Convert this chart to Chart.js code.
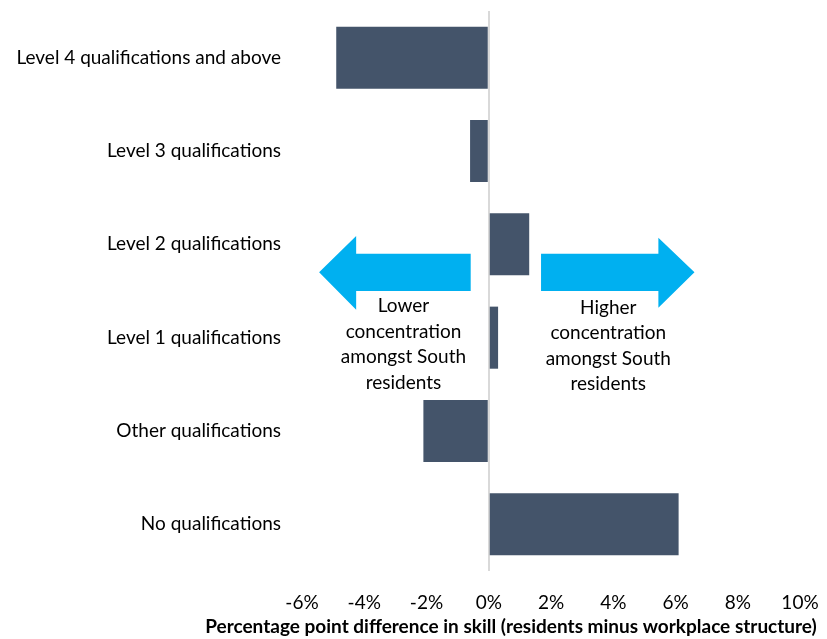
<!DOCTYPE html>
<html>
<head>
<meta charset="utf-8">
<script src="https://cdn.jsdelivr.net/npm/chart.js@4"></script>
<style>
  html, body { margin: 0; padding: 0; background: #fff; }
  #wrap { width: 827px; height: 639px; }
</style>
</head>
<body>
<div id="wrap"><canvas id="skillChart" width="827" height="639"></canvas></div>
<script>
// data
const categories = [
    'Level 4 qualifications and above',
    'Level 3 qualifications',
    'Level 2 qualifications',
    'Level 1 qualifications',
    'Other qualifications',
    'No qualifications'
];
const differences = [-4.9, -0.6, 1.3, 0.3, -2.1, 6.1];
const xTicks = [-6, -4, -2, 0, 2, 4, 6, 8, 10];
const axisTitle = 'Percentage point difference in skill (residents minus workplace structure)';
const lowerNote = ['Lower', 'concentration', 'amongst South', 'residents'];
const higherNote = ['Higher', 'concentration', 'amongst South', 'residents'];

const fontFamily = 'Lato, "Open Sans", sans-serif';

// arrows + notes, placed in axis units
const notesPlugin = {
    id: 'notes',
    afterDatasetsDraw(chart) {
        const ctx = chart.ctx;
        const x = chart.scales.x;
        const y = chart.scales.y;
        const px = v => x.getPixelForValue(v);
        const py = v => y.getPixelForValue(v);

        ctx.save();
        ctx.fillStyle = '#00B0F0';
        // left arrow
        ctx.beginPath();
        ctx.moveTo(px(-0.58), py(2.1));
        ctx.lineTo(px(-4.26), py(2.1));
        ctx.lineTo(px(-4.26), py(1.91));
        ctx.lineTo(px(-5.45), py(2.3));
        ctx.lineTo(px(-4.26), py(2.7));
        ctx.lineTo(px(-4.26), py(2.5));
        ctx.lineTo(px(-0.58), py(2.5));
        ctx.closePath();
        ctx.fill();
        // right arrow
        ctx.beginPath();
        ctx.moveTo(px(1.68), py(2.1));
        ctx.lineTo(px(5.45), py(2.1));
        ctx.lineTo(px(5.45), py(1.93));
        ctx.lineTo(px(6.61), py(2.3));
        ctx.lineTo(px(5.45), py(2.68));
        ctx.lineTo(px(5.45), py(2.5));
        ctx.lineTo(px(1.68), py(2.5));
        ctx.closePath();
        ctx.fill();

        ctx.fillStyle = '#000';
        ctx.font = '19px ' + fontFamily;
        ctx.textAlign = 'center';
        ctx.textBaseline = 'middle';
        lowerNote.forEach((t, i) => ctx.fillText(t, px(-2.74), py(2.66) + i * 25.5));
        higherNote.forEach((t, i) => ctx.fillText(t, px(3.84), py(2.68) + i * 25.5));

        // axis title, placed as in the original
        ctx.font = 'bold 19px ' + fontFamily;
        ctx.fillText(axisTitle, 511, 627);
        ctx.restore();
    }
};

const ctx = document.getElementById('skillChart').getContext('2d');
new Chart(ctx, {
    type: 'bar',
    data: {
        labels: categories,
        datasets: [{
            data: differences,
            backgroundColor: '#44546A',
            categoryPercentage: 1,
            barPercentage: 0.665
        }]
    },
    options: {
        indexAxis: 'y',
        responsive: false,
        animation: false,
        layout: { padding: { top: 11, right: 27, left: 0, bottom: 0 } },
        scales: {
            x: {
                min: -6,
                max: 10,
                afterBuildTicks: scale => { scale.ticks = xTicks.map(v => ({ value: v })); },
                afterFit: scale => {
                    scale.height = 68;
                    scale.paddingLeft = 0;
                    scale.paddingRight = 0;
                },
                border: { display: false },
                grid: {
                    drawTicks: false,
                    color: c => c.tick && c.tick.value === 0 ? '#D9D9D9' : 'rgba(0,0,0,0)',
                    lineWidth: 2
                },
                ticks: {
                    padding: 20,
                    color: '#000',
                    font: { family: fontFamily, size: 19 },
                    callback: v => v + '%'
                }
            },
            y: {
                afterFit: scale => {
                    scale.width = 302;
                    scale.paddingTop = 0;
                    scale.paddingBottom = 0;
                },
                border: { display: false },
                grid: { display: false, drawTicks: false },
                ticks: {
                    padding: 21,
                    color: '#000',
                    font: { family: fontFamily, size: 19 }
                }
            }
        },
        plugins: {
            legend: { display: false },
            tooltip: { enabled: false }
        }
    },
    plugins: [notesPlugin]
});
</script>
</body>
</html>
